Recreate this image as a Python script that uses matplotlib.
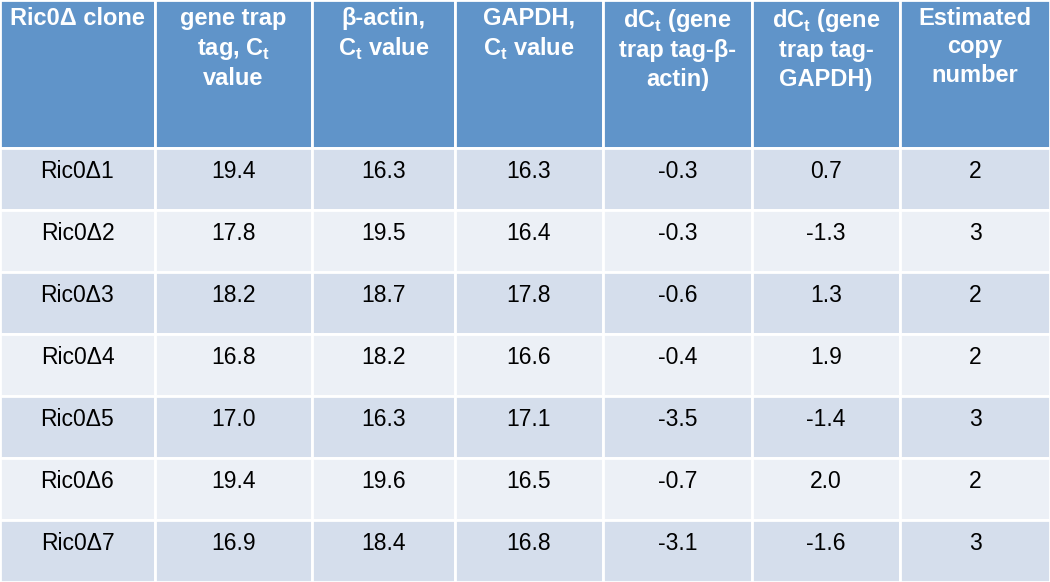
import matplotlib.pyplot as plt
from matplotlib.patches import Rectangle

plt.rcParams['font.family'] = ['Liberation Sans', 'DejaVu Sans']
plt.rcParams['mathtext.fontset'] = 'custom'
plt.rcParams['mathtext.rm'] = 'Liberation Sans'

# Données du tableau
headers = [
    "Ric0\u0394 clone",
    "gene trap\ntag, C$_\\mathregular{t}$\nvalue",
    "\u03b2-actin,\nC$_\\mathregular{t}$ value",
    "GAPDH,\nC$_\\mathregular{t}$ value",
    "dC$_\\mathregular{t}$ (gene\ntrap tag-\u03b2-\nactin)",
    "dC$_\\mathregular{t}$ (gene\ntrap tag-\nGAPDH)",
    "Estimated\ncopy\nnumber",
]
clones = ["Ric0\u03941", "Ric0\u03942", "Ric0\u03943", "Ric0\u03944",
          "Ric0\u03945", "Ric0\u03946", "Ric0\u03947"]
gene_trap = ["19.4", "17.8", "18.2", "16.8", "17.0", "19.4", "16.9"]
beta_actin = ["16.3", "19.5", "18.7", "18.2", "16.3", "19.6", "18.4"]
gapdh = ["16.3", "16.4", "17.8", "16.6", "17.1", "16.5", "16.8"]
dct_actin = ["-0.3", "-0.3", "-0.6", "-0.4", "-3.5", "-0.7", "-3.1"]
dct_gapdh = ["0.7", "-1.3", "1.3", "1.9", "-1.4", "2.0", "-1.6"]
copy_number = ["2", "3", "2", "2", "3", "2", "3"]

colonnes = [clones, gene_trap, beta_actin, gapdh, dct_actin, dct_gapdh, copy_number]

# Mise en page (pixels)
largeurs = [155, 157, 143, 148, 149, 148, 150]
haut_entete = 148
haut_ligne = 62
W, H = 1050, 582

couleur_entete = '#6094C9'
couleurs_lignes = ['#D5DEEC', '#ECF0F6']

fig = plt.figure(figsize=(10.5, 5.82), dpi=100)
ax = fig.add_axes([0, 0, 1, 1])
ax.set_xlim(0, W)
ax.set_ylim(H, 0)
ax.axis('off')

x_bords = [0]
for w in largeurs:
    x_bords.append(x_bords[-1] + w)

# En-tête
for j, texte in enumerate(headers):
    x0 = x_bords[j]
    w = largeurs[j]
    ax.add_patch(Rectangle((x0, 0), w, haut_entete, facecolor=couleur_entete,
                           edgecolor='white', linewidth=2))
    ax.text(x0 + w / 2, 7, texte, ha='center', va='top', color='white',
            fontsize=17, fontweight='bold', linespacing=1.3)

# Lignes de données
n = len(clones)
for i in range(n):
    y0 = haut_entete + i * haut_ligne
    for j, col in enumerate(colonnes):
        x0 = x_bords[j]
        w = largeurs[j]
        ax.add_patch(Rectangle((x0, y0), w, haut_ligne,
                               facecolor=couleurs_lignes[i % 2],
                               edgecolor='white', linewidth=2))
        ax.text(x0 + w / 2, y0 + 24, col[i], ha='center', va='center',
                color='black', fontsize=16.5)

fig.savefig('out.png', dpi=100)
